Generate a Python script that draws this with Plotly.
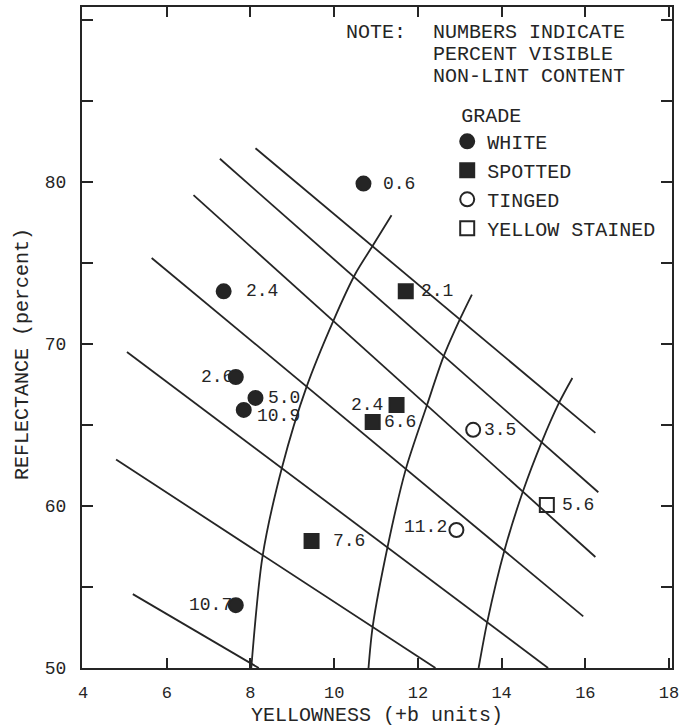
import plotly.graph_objects as go

# ---------------- data ----------------
grades = ["WHITE", "SPOTTED", "TINGED", "YELLOW STAINED"]

white_b = [10.70, 7.36, 7.65, 8.12, 7.84, 7.65]
white_rd = [79.9, 73.25, 67.96, 66.67, 65.93, 53.88]
white_nl = ["0.6", "2.4", "2.6", "5.0", "10.9", "10.7"]

spotted_b = [11.71, 11.49, 10.92, 9.46]
spotted_rd = [73.25, 66.23, 65.19, 57.84]
spotted_nl = ["2.1", "2.4", "6.6", "7.6"]

tinged_b = [13.32, 12.92]
tinged_rd = [64.70, 58.52]
tinged_nl = ["3.5", "11.2"]

yellow_b = [15.08]
yellow_rd = [60.06]
yellow_nl = ["5.6"]

# straight (reflectance) grade boundary lines: start and end points
diag_b0 = [8.12, 7.27, 6.64, 5.64, 5.05, 4.79, 5.19]
diag_rd0 = [82.08, 81.43, 79.19, 75.31, 69.51, 62.87, 54.56]
diag_b1 = [16.24, 16.31, 16.24, 15.95, 15.11, 12.42, 8.20]
diag_rd1 = [64.51, 60.85, 56.85, 53.19, 50.0, 50.0, 50.0]

# curved (yellowness) grade boundary lines
curve1_b = [11.37, 10.92, 10.51, 9.98, 9.34, 8.76, 8.29, 8.02]
curve1_rd = [77.94, 76.06, 74.35, 71.43, 67.35, 62.44, 56.91, 50.0]
curve2_b = [13.29, 13.01, 12.61, 12.21, 11.71, 11.28, 10.92, 10.82]
curve2_rd = [73.05, 71.56, 69.20, 66.17, 62.26, 57.53, 52.56, 50.0]
curve3_b = [15.69, 15.37, 14.96, 14.51, 14.07, 13.66, 13.45]
curve3_rd = [67.90, 66.36, 63.96, 60.91, 57.28, 52.88, 50.0]

x_ticks = [4, 6, 8, 10, 12, 14, 16, 18]
y_ticks = [50, 55, 60, 65, 70, 75, 80, 85, 90]
y_ticktext = ["50", "", "60", "", "70", "", "80", "", ""]

x_title = "YELLOWNESS (+b units)"
y_title = "REFLECTANCE (percent)"
note_head = "NOTE:"
note_lines = ["NUMBERS INDICATE", "PERCENT VISIBLE", "NON-LINT CONTENT"]

# ---------------- styles ----------------
FONT = "Liberation Mono, Courier New, monospace"
INK = "#252525"
MS = 14

fig = go.Figure()

for b0, r0, b1, r1 in zip(diag_b0, diag_rd0, diag_b1, diag_rd1):
    fig.add_trace(go.Scatter(x=[b0, b1], y=[r0, r1], mode="lines",
                             line=dict(color=INK, width=1.8),
                             showlegend=False, hoverinfo="skip"))

for cb, cr in [(curve1_b, curve1_rd), (curve2_b, curve2_rd), (curve3_b, curve3_rd)]:
    fig.add_trace(go.Scatter(x=cb, y=cr, mode="lines",
                             line=dict(color=INK, width=1.8, shape="spline", smoothing=0.8),
                             showlegend=False, hoverinfo="skip"))

series = [
    (grades[0], white_b, white_rd, "circle"),
    (grades[1], spotted_b, spotted_rd, "square"),
    (grades[2], tinged_b, tinged_rd, "circle-open"),
    (grades[3], yellow_b, yellow_rd, "square-open"),
]
for name, xs, ys, sym in series:
    fig.add_trace(go.Scatter(
        x=xs, y=ys, mode="markers", name=name,
        marker=dict(symbol=sym, size=MS, color=INK,
                    line=dict(color=INK, width=2)),
    ))

# point labels (offset in px: side, dx, dy)
label_style = {
    "white": [("r", 18, 0), ("r", 20, 0), ("l", 1, 0), ("r", 11, 0), ("r", 11, -6), ("l", 2, 0)],
    "spotted": [("r", 13, 0), ("l", 12, 0), ("r", 9, 0), ("r", 19, 0)],
    "tinged": [("r", 9, 0), ("l", 7, 3)],
    "yellow": [("r", 13, 0)],
}
for key, xs, ys, labels in [("white", white_b, white_rd, white_nl),
                            ("spotted", spotted_b, spotted_rd, spotted_nl),
                            ("tinged", tinged_b, tinged_rd, tinged_nl),
                            ("yellow", yellow_b, yellow_rd, yellow_nl)]:
    for (side, dx, dy), x, y, t in zip(label_style[key], xs, ys, labels):
        fig.add_annotation(x=x, y=y, text=t, showarrow=False,
                           xanchor="left" if side == "r" else "right",
                           xshift=dx if side == "r" else -dx, yshift=dy,
                           font=dict(family=FONT, size=18, color=INK))

# note block
fig.add_annotation(xref="paper", yref="paper", x=0.444, y=0.9607, text=note_head,
                   showarrow=False, xanchor="left", yanchor="middle",
                   font=dict(family=FONT, size=20, color=INK))
for t, yy in zip(note_lines, [0.9607, 0.9274, 0.8941]):
    fig.add_annotation(xref="paper", yref="paper", x=0.5915, y=yy, text=t,
                       showarrow=False, xanchor="left", yanchor="middle",
                       font=dict(family=FONT, size=20, color=INK))

# y-axis title (placed as in the reference, slightly below centre)
fig.add_annotation(xref="paper", yref="paper", x=-0.1017, y=0.475, text=y_title,
                   textangle=-90, showarrow=False, xanchor="center", yanchor="middle",
                   font=dict(family=FONT, size=20, color=INK))

fig.update_layout(
    width=693, height=727, autosize=False,
    margin=dict(l=82, r=21, t=7, b=59),
    paper_bgcolor="white", plot_bgcolor="white",
    font=dict(family=FONT, color=INK),
    showlegend=True,
    legend=dict(x=0.619, y=0.8656, xanchor="left", yanchor="top",
                bgcolor="rgba(0,0,0,0)", borderwidth=0,
                title=dict(text="&nbsp;GRADE", font=dict(family=FONT, size=20, color=INK)),
                font=dict(family=FONT, size=20, color=INK),
                itemwidth=30),
    xaxis=dict(range=[3.976, 18.07], tickvals=x_ticks, ticks="inside", ticklen=10,
               tickwidth=1.5, tickcolor=INK, mirror="ticks", showline=True,
               linewidth=2, linecolor=INK, showgrid=False, zeroline=False,
               automargin=False,
               tickfont=dict(family=FONT, size=17, color=INK), ticklabelstandoff=8,
               title=dict(text=x_title, font=dict(family=FONT, size=20, color=INK),
                          standoff=19)),
    yaxis=dict(range=[50, 90.8], tickvals=y_ticks, ticktext=y_ticktext, ticks="inside",
               ticklen=11, tickwidth=1.5, tickcolor=INK, mirror="ticks", showline=True,
               linewidth=2, linecolor=INK, showgrid=False, zeroline=False,
               automargin=False,
               tickfont=dict(family=FONT, size=18, color=INK), ticklabelstandoff=10),
)

fig.write_html("out.html")
